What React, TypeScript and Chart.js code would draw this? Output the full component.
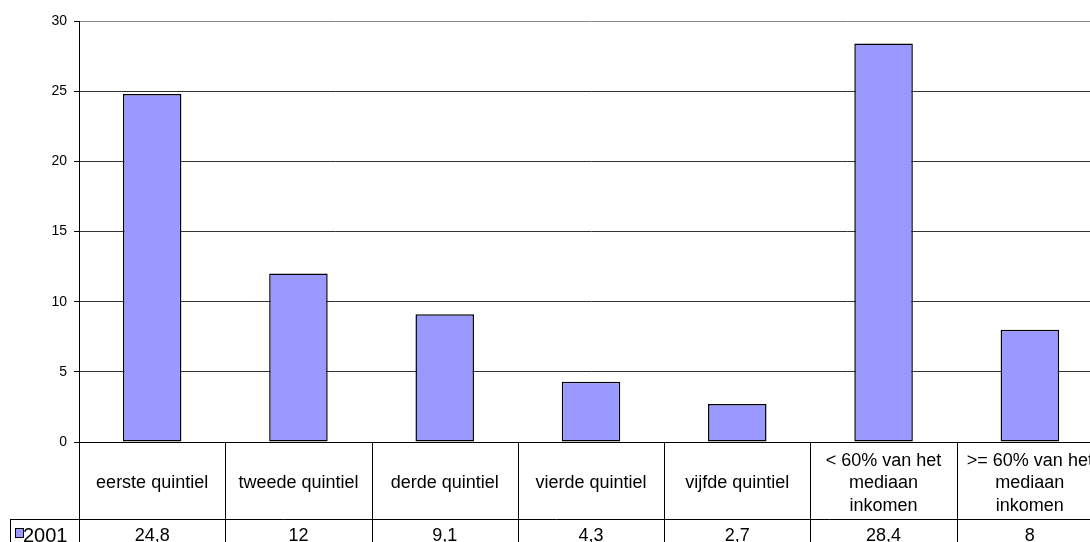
import React, { useEffect, useRef } from "react";
import { Chart, registerables } from "chart.js";

Chart.register(...registerables);

const categories: (string | string[])[] = [
  "eerste quintiel",
  "tweede quintiel",
  "derde quintiel",
  "vierde quintiel",
  "vijfde quintiel",
  ["< 60% van het", "mediaan", "inkomen"],
  [">= 60% van het", "mediaan", "inkomen"],
];
const seriesName = "2001";
const values = [24.8, 12, 9.1, 4.3, 2.7, 28.4, 8];
const yMin = 0;
const yMax = 30;
const yStep = 5;

const FONT = "'Liberation Sans', Arial, sans-serif";
const BAR_COLOR = "#9999FF";

const CANVAS_W = 1110;
const CANVAS_H = 560;

const tablePlugin = {
  id: "dataTable",
  afterDraw(chart: any) {
    const ctx = chart.ctx as CanvasRenderingContext2D;
    const xs = chart.scales.x;
    const ca = chart.chartArea;
    const n = categories.length;
    const step = (ca.right - ca.left) / n;
    const row1Bottom = ca.bottom + 77;
    const legendLeft = 10;
    ctx.save();
    ctx.strokeStyle = "#000";
    ctx.lineWidth = 1;
    // axis line
    ctx.beginPath();
    ctx.moveTo(ca.left, Math.round(ca.bottom) + 0.5);
    ctx.lineTo(ca.right, Math.round(ca.bottom) + 0.5);
    ctx.stroke();
    // vertical separators
    for (let i = 0; i <= n; i++) {
      const x = Math.round(xs.getPixelForValue(i) - step / 2) + 0.5;
      ctx.beginPath();
      ctx.moveTo(x, ca.bottom);
      ctx.lineTo(x, CANVAS_H);
      ctx.stroke();
    }
    // horizontal row separator
    ctx.beginPath();
    ctx.moveTo(legendLeft, row1Bottom + 0.5);
    ctx.lineTo(ca.right, row1Bottom + 0.5);
    ctx.stroke();
    // legend cell left line
    ctx.beginPath();
    ctx.moveTo(legendLeft + 0.5, row1Bottom);
    ctx.lineTo(legendLeft + 0.5, CANVAS_H);
    ctx.stroke();

    // category labels
    ctx.fillStyle = "#000";
    ctx.textAlign = "center";
    ctx.textBaseline = "alphabetic";
    ctx.font = `18px ${FONT}`;
    const midBase = ca.bottom + 46;
    const lh = 22.5;
    categories.forEach((c, i) => {
      const cx = xs.getPixelForValue(i);
      const lines = Array.isArray(c) ? c : [c];
      const start = midBase - ((lines.length - 1) / 2) * lh;
      lines.forEach((ln, j) => ctx.fillText(ln, cx, start + j * lh));
    });
    // values row
    values.forEach((v, i) => {
      const cx = xs.getPixelForValue(i);
      ctx.fillText(String(v).replace(".", ","), cx, ca.bottom + 99);
    });
    // legend key
    ctx.fillStyle = BAR_COLOR;
    ctx.fillRect(15.5, 528.5, 8, 9);
    ctx.strokeStyle = "#000";
    ctx.strokeRect(15.5, 528.5, 8, 9);
    ctx.fillStyle = "#000";
    ctx.textAlign = "left";
    ctx.font = `20px ${FONT}`;
    ctx.fillText(seriesName, 23, ca.bottom + 100);
    ctx.restore();
  },
};

export default function App() {
  const ref = useRef<HTMLCanvasElement | null>(null);
  useEffect(() => {
    if (!ref.current) return;
    const chart = new Chart(ref.current, {
      type: "bar",
      data: {
        labels: categories as any,
        datasets: [
          {
            label: seriesName,
            data: values,
            backgroundColor: BAR_COLOR,
            borderColor: "#000",
            borderWidth: 1.5,
            borderSkipped: false,
            categoryPercentage: 1,
            barPercentage: 0.4,
          },
        ],
      },
      options: {
        responsive: false,
        animation: false,
        devicePixelRatio: 1,
        layout: { padding: { left: 0, top: 21, right: CANVAS_W - 1103, bottom: CANVAS_H - 442 } },
        plugins: { legend: { display: false }, tooltip: { enabled: false } },
        scales: {
          x: { display: false },
          y: {
            min: yMin,
            max: yMax,
            ticks: {
              stepSize: yStep,
              color: "#000",
              padding: 7,
              font: { family: FONT, size: 14 },
            },
            grid: {
              color: (c: any) => (c.tick && c.tick.value === yMax ? "#8a8a8a" : "#333"),
              tickColor: "#000",
              tickLength: 5,
            },
            border: { color: "#000", width: 1 },
            afterFit: (s: any) => {
              s.width = 79;
            },
          },
        },
      },
      plugins: [tablePlugin],
    });
    return () => chart.destroy();
  }, []);
  return (
    <div style={{ position: "fixed", left: 0, top: 0, width: 1090, height: 542, overflow: "hidden", background: "#fff" }}>
      <canvas ref={ref} width={CANVAS_W} height={CANVAS_H} style={{ display: "block", width: CANVAS_W, height: CANVAS_H }} />
    </div>
  );
}
